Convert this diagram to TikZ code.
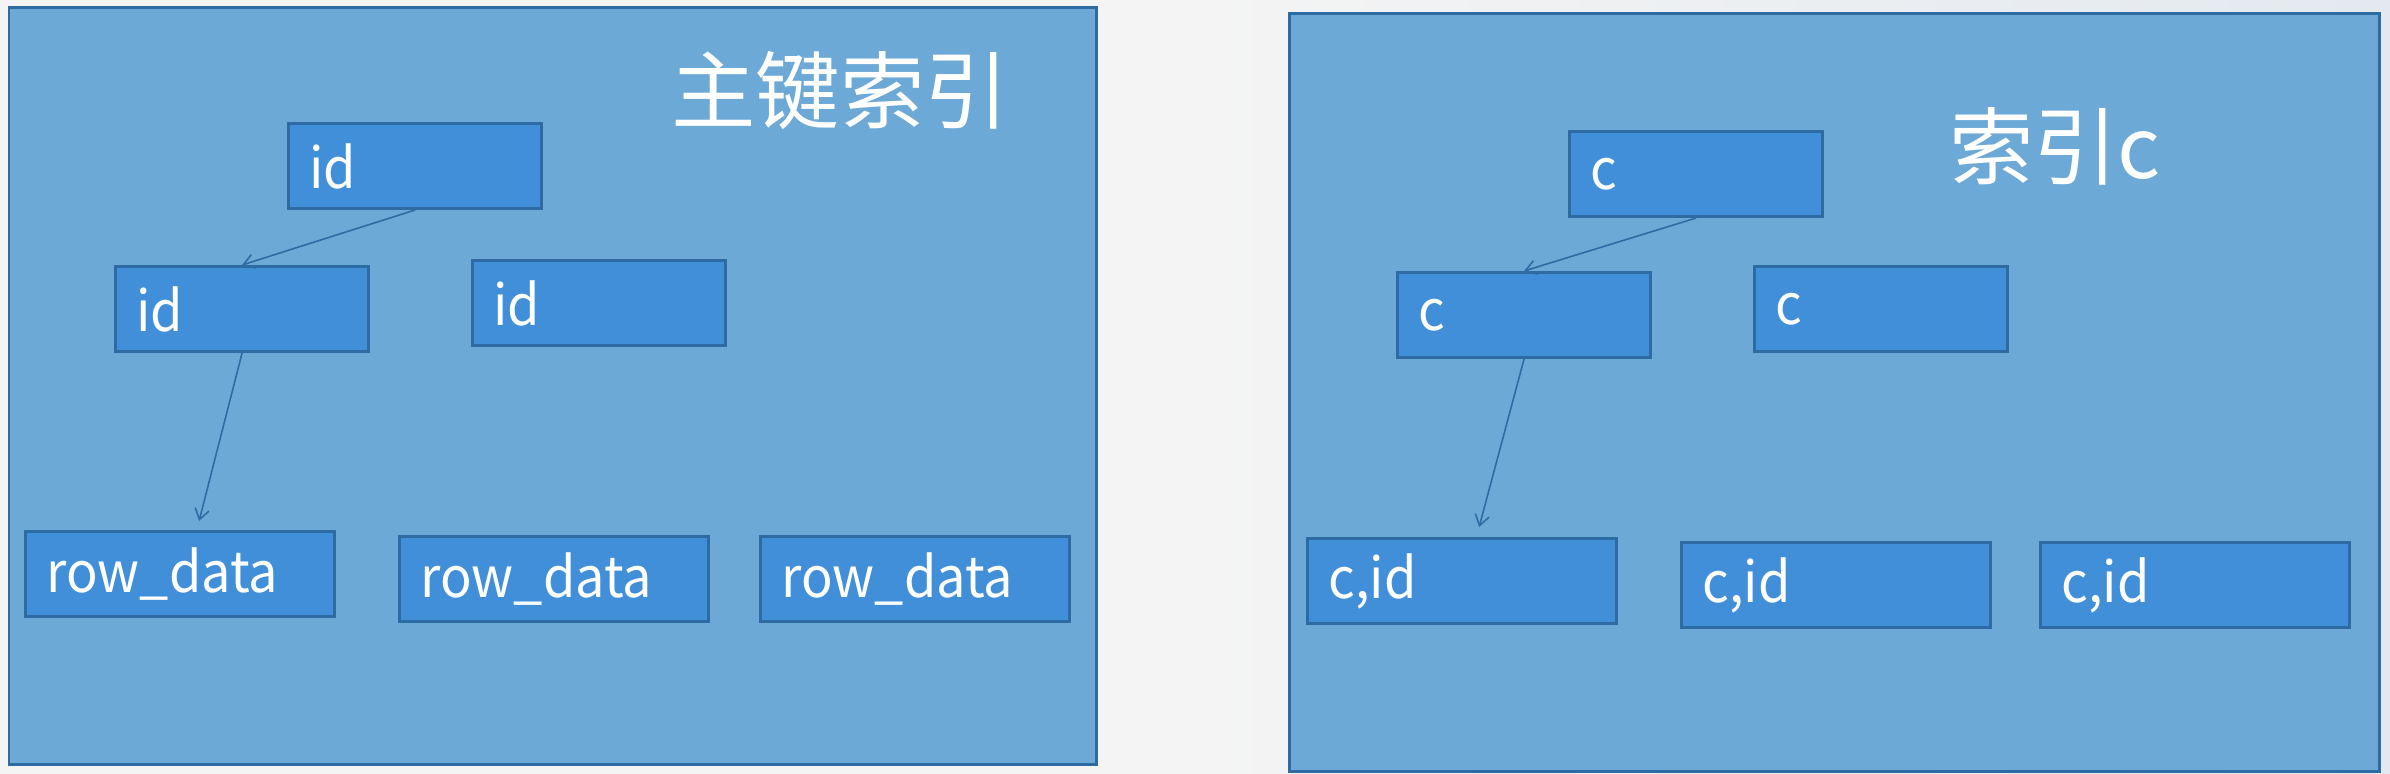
\documentclass[tikz,border=0pt]{standalone}
\usepackage{fontspec}
\setmainfont{Noto Sans CJK SC}
\newfontfamily\boxfont[FakeStretch=0.93]{Noto Sans CJK SC}
\usetikzlibrary{arrows.meta,calc}
\definecolor{bg}{HTML}{F4F4F4}
\definecolor{bgr}{HTML}{E3E9EF}
\definecolor{panel}{HTML}{6CA9D6}
\definecolor{bx}{HTML}{418FD8}
\definecolor{bd}{HTML}{2F6BA3}
\tikzset{
  panelbox/.style={draw=bd, fill=panel, line width=0.85pt},
  basebox/.style={draw=bd, fill=bx, line width=0.85pt, anchor=north west,
    text=white, font=\boxfont\fontsize{16pt}{18pt}\selectfont, align=left,
    inner xsep=6pt, inner ysep=0pt, minimum height=0.85cm},
  sbox/.style={basebox, minimum width=2.53cm, text width=2.53cm-12pt},
  wbox/.style={basebox, minimum width=3.09cm, text width=3.09cm-12pt},
  title/.style={text=white, font=\fontsize{24pt}{26pt}\selectfont},
  link/.style={draw=bd, line width=0.45pt, -{Straight Barb[length=3pt,width=4pt]}}
}
\begin{document}
\begin{tikzpicture}[x=0.01cm,y=-0.01cm]
\useasboundingbox (0,0) rectangle (2390,774);
\fill[bg] (0,0) rectangle (1200,774);
\shade[left color=bg, right color=bgr] (1199,0) rectangle (2390,774);
% panels
\draw[panelbox] (9,8) rectangle (1096,765);
\draw[panelbox] (1289,14) rectangle (2379,772);
% left panel
\node[title] (t1) at (840,91) {主键索引};
\node[sbox] (a1) at (287,122) {id};
\node[sbox] (a2) at (114,265) {id};
\node[sbox] (a3) at (471,259) {id};
\node[wbox] (r1) at (24,530) {row\_data};
\node[wbox] (r2) at (398,535) {row\_data};
\node[wbox] (r3) at (759,535) {row\_data};
\coordinate (e1) at ($(r1.north)+(19,-9)$);
\draw[link] (a1.south) -- (a2.north);
\draw[link] (a2.south) -- (e1);
% right panel
\node[title] (t2) at (2055,146) {索引c};
\node[sbox] (b1) at (1568,130) {c};
\node[sbox] (b2) at (1396,271) {c};
\node[sbox] (b3) at (1753,265) {c};
\node[wbox] (c1) at (1306,537) {c,id};
\node[wbox] (c2) at (1680,541) {c,id};
\node[wbox] (c3) at (2039,541) {c,id};
\coordinate (e2) at ($(c1.north)+(17,-10)$);
\draw[link] (b1.south) -- (b2.north);
\draw[link] (b2.south) -- (e2);
\end{tikzpicture}
\end{document}
